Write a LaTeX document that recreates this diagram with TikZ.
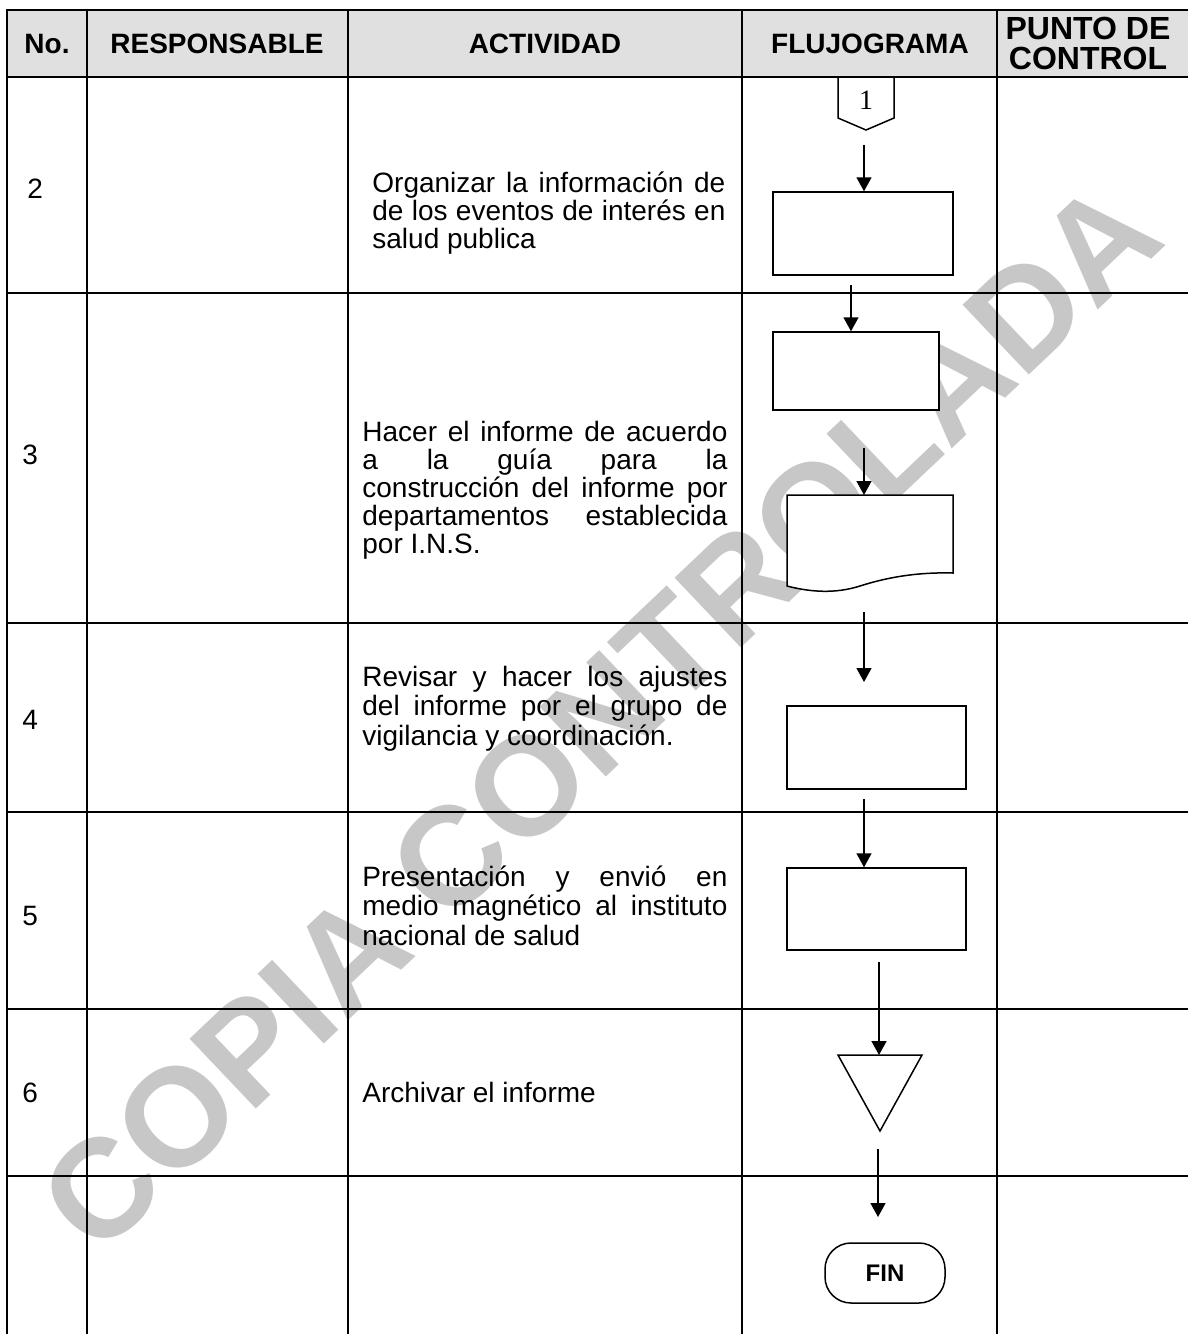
\documentclass[tikz,border=0pt]{standalone}
\usepackage{fontspec}
\setmainfont{Liberation Sans}
\newfontfamily\timesfont{Liberation Serif}
\usetikzlibrary{arrows.meta}
\begin{document}
\begin{tikzpicture}[x=0.5pt,y=-0.5pt,
  grid/.style={line width=1pt, line cap=rect},
  hdrfill/.style={fill=black!12},
  fshape/.style={draw, line width=0.75pt, fill=white, inner sep=0},
  arr/.style={line width=0.75pt, -{Triangle[width=7.5pt,length=7pt]}},
  hdr/.style={font=\fontsize{14}{16}\selectfont\bfseries, inner sep=0},
  num/.style={font=\fontsize{14}{16}\selectfont, anchor=west, inner sep=0},
  act/.style={font=\fontsize{14}{14}\selectfont, anchor=base west, inner sep=0,
    text width=182.5pt, align=justify,
    execute at begin node={\tolerance=10000\hyphenpenalty=10000\emergencystretch=20pt}},
  actwide/.style={act, font=\fontsize{14}{14.75}\selectfont},
  wmark/.style={font=\fontsize{70}{70}\selectfont\bfseries, text=black!22, rotate=43.5, inner sep=0},
]
\useasboundingbox (0,0) rectangle (1188,1334);
% watermark
\node[wmark] (wm) at (600,716) {COPIA CONTROLADA};
% header background
\fill[hdrfill] (7,10) rectangle (1188,77);
% table grid
\foreach \yy in {10,77,293,623,812,1009,1176} \draw[grid] (7,\yy) -- (1188,\yy);
\foreach \xx in {7,87,348,742,997} \draw[grid] (\xx,10) -- (\xx,1334);
% header texts
\node[hdr] (hno) at (47,44) {No.};
\node[hdr] (hresp) at (217,44) {RESPONSABLE};
\node[hdr] (hact) at (545,44) {ACTIVIDAD};
\node[hdr] (hflu) at (870,44) {FLUJOGRAMA};
\node[hdr, font=\fontsize{16}{15}\selectfont\bfseries, align=center] (hpc) at (1088,43) {PUNTO DE\\CONTROL};
% numbers
\node[num] (n2) at (27,189) {2};
\node[num] (n3) at (22,455) {3};
\node[num] (n4) at (22,720) {4};
\node[num] (n5) at (22,916) {5};
\node[num] (n6) at (22,1093) {6};
% activities
\node[act, text width=176.5pt] (t2) at (372,192) {Organizar la información de\linebreak de los eventos de interés en\linebreak salud publica};
\node[act] (t3) at (362,441) {Hacer el informe de acuerdo\linebreak a la guía para la\linebreak construcción del informe por\linebreak departamentos establecida\linebreak por I.N.S.};
\node[actwide] (t4) at (362,686) {Revisar y hacer los ajustes\linebreak del informe por el grupo de\linebreak vigilancia y coordinación.};
\node[actwide] (t5) at (362,886) {Presentación y envió en\linebreak medio magnético al instituto\linebreak nacional de salud};
\node[act] (t6) at (362,1102) {Archivar el informe};
% flowchart shapes
\draw[fshape] (838,77) -- (838,118) -- (866,130) -- (894,118) -- (894,77) -- cycle;
\node[font=\timesfont\fontsize{14}{16}\selectfont, inner sep=0] (c1) at (866,100) {1};
\coordinate (c1tip) at (866,130);
\node[fshape, minimum width=90pt, minimum height=41.5pt] (b1) at (863,233.5) {};
\node[fshape, minimum width=83pt, minimum height=39pt] (b2) at (856,371) {};
\draw[fshape] (787,495) -- (953,495) -- (953,573)
  .. controls (915,572) and (885,578) .. (860,586)
  .. controls (835,594) and (810,592) .. (787,586) -- cycle;
\coordinate (doctop) at (864,495);
\node[fshape, minimum width=89.5pt, minimum height=41.5pt] (b4) at (876.5,747.5) {};
\node[fshape, minimum width=89.5pt, minimum height=41pt] (b5) at (876.5,909) {};
\draw[fshape] (838,1055) -- (922,1055) -- (880,1131) -- cycle;
\coordinate (trtop) at (879,1055);
\node[fshape, minimum width=60pt, minimum height=30pt, rounded corners=13pt,
  font=\fontsize{12}{14}\selectfont\bfseries] (fin) at (885,1273) {FIN};
% connectors
\coordinate (s1) at (864,145);
\coordinate (s2) at (851,285);
\coordinate (s3) at (864,448);
\coordinate (s4) at (864,612);
\coordinate (e4) at (864,682);
\coordinate (s5) at (864,799);
\coordinate (s6) at (879,962);
\coordinate (s7) at (878,1149);
\coordinate (e7) at (878,1217);
\draw[arr] (s1) -- (s1 |- b1.north);
\draw[arr] (s2) -- (s2 |- b2.north);
\draw[arr] (s3) -- (doctop);
\draw[arr] (s4) -- (e4);
\draw[arr] (s5) -- (s5 |- b5.north);
\draw[arr] (s6) -- (trtop);
\draw[arr] (s7) -- (e7);
\end{tikzpicture}
\end{document}
